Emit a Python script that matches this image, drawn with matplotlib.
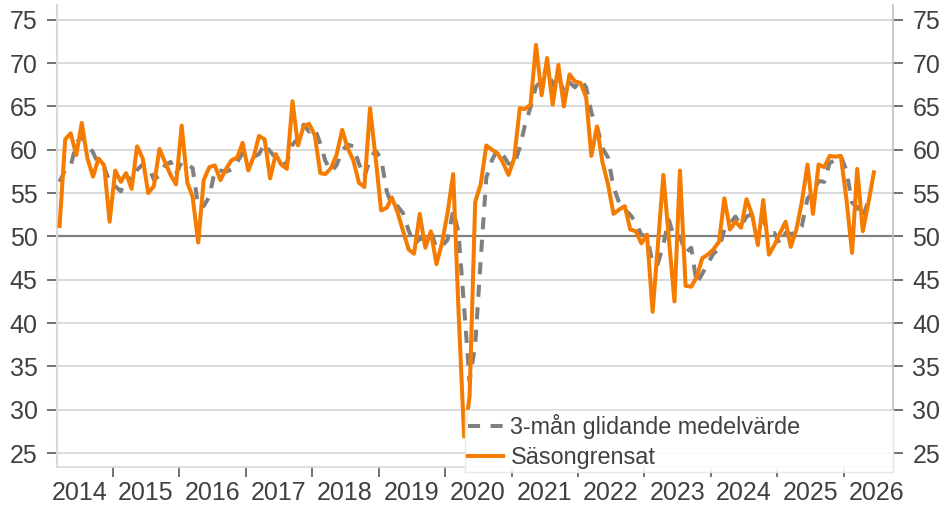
import matplotlib
matplotlib.use("Agg")
import matplotlib.pyplot as plt
import pandas as pd

plt.rcParams['font.family'] = ['Liberation Sans', 'DejaVu Sans']

# monthly data, first point March 2014
start_month = "2014-03-01"

sasongrensat = [
    51.2, 61.2, 61.9, 59.4, 63.1, 59.0, 56.9, 59.0, 58.2, 51.7,
    57.6, 56.3, 57.3, 55.5, 60.4, 59.0, 55.0, 55.8, 60.1, 58.6, 57.1, 56.0,
    62.8, 56.2, 54.6, 49.3, 56.5, 58.0, 58.2, 56.5, 57.8, 58.8, 59.1, 60.8,
    57.6, 59.3, 61.6, 61.2, 56.7, 59.5, 58.3, 57.8, 65.6, 60.5, 62.7, 63.0,
    61.7, 57.3, 57.2, 57.9, 59.4, 62.3, 60.2, 58.8, 56.2, 55.7, 64.8, 59.2,
    53.0, 53.3, 54.5, 52.8, 50.7, 48.5, 48.0, 52.6, 48.7, 50.6, 46.8, 49.2,
    52.7, 57.2, 41.6, 26.9, 31.5, 54.0, 56.0, 60.5, 60.0, 59.6, 58.5, 57.1,
    59.0, 64.8, 64.7, 65.2, 72.1, 66.3, 70.6, 65.2, 69.8, 65.0, 68.7, 67.9,
    67.7, 66.0, 59.3, 62.7, 58.6, 56.0, 52.6, 53.1, 53.5, 50.8, 50.6, 49.2,
    50.2, 41.3, 48.8, 57.1, 49.8, 42.5, 57.6, 44.3, 44.2, 45.3, 47.5, 47.9,
    48.5, 49.4, 54.4, 50.8, 51.7, 51.0, 54.3, 52.5, 49.0, 54.2, 47.9, 49.0,
    50.4, 51.7, 48.8, 50.8, 54.0, 58.3, 52.6, 58.3, 58.0, 59.3, 59.2, 59.3,
    54.3, 48.1, 57.8, 50.6, 53.8, 57.4,
]

glidande_medel = [
    56.3, 57.7, 58.1, 60.8, 61.5, 60.5, 59.7, 58.3, 58.0, 56.3,
    55.8, 55.2, 57.1, 56.4, 57.7, 58.3, 58.1, 56.6, 57.0, 58.2, 58.6, 57.2,
    58.6, 58.3, 57.9, 53.4, 53.5, 54.6, 57.6, 57.6, 57.5, 57.7, 58.6, 59.6,
    59.2, 59.2, 59.5, 60.7, 59.8, 59.1, 58.2, 58.5, 60.6, 61.3, 62.9, 62.1,
    62.5, 60.7, 58.7, 57.5, 58.2, 59.9, 60.6, 60.4, 58.4, 56.9, 58.9, 59.9,
    59.0, 55.2, 53.6, 53.5, 52.7, 50.7, 49.1, 49.7, 49.8, 50.6, 48.7, 48.9,
    49.6, 53.0, 50.5, 41.9, 33.3, 37.5, 47.2, 56.8, 58.8, 60.0, 59.4, 58.4,
    58.2, 60.3, 62.8, 64.9, 67.3, 67.9, 69.7, 67.4, 68.5, 66.7, 67.8, 67.2,
    68.1, 67.2, 64.3, 62.7, 60.2, 59.1, 55.7, 53.9, 53.1, 52.5, 51.6, 50.2,
    50.0, 46.9, 46.8, 49.1, 51.9, 49.8, 50.0, 48.1, 48.7, 44.6, 45.7, 46.9,
    48.0, 48.6, 50.8, 51.5, 52.3, 51.2, 52.3, 52.6, 51.9, 51.9, 50.4, 50.4,
    49.1, 50.4, 50.3, 50.4, 51.2, 54.4, 55.0, 56.4, 56.3, 58.5, 58.8, 59.3,
    57.6, 53.9, 53.4, 52.2, 54.1, 53.9,
]

years = list(range(2014, 2027))
y_ticks = list(range(25, 80, 5))

orange = "#F57C00"
grey_dash = "#808080"
text_col = "#404040"

dates = pd.date_range(start_month, periods=len(sasongrensat), freq="MS") + pd.Timedelta(days=14)

fig = plt.figure(figsize=(9.44, 5.07), dpi=100)
ax = fig.add_axes([0.0604, 0.079, 0.8856, 0.911])

# grid lines
for v in y_ticks:
    if v == 50:
        ax.axhline(v, color="#808080", lw=1.6, zorder=1)
    else:
        ax.axhline(v, color="#d0d0d0", lw=1.1, zorder=1)

ax.plot(dates, glidande_medel, color=grey_dash, lw=2.9, ls=(0, (3, 2.6)),
        label="3-mån glidande medelvärde", zorder=2)
ax.plot(dates, sasongrensat, color=orange, lw=2.9,
        label="Säsongrensat", zorder=3)

ax.set_xlim(pd.Timestamp("2014-03-01"), pd.Timestamp("2026-09-28"))
ax.set_ylim(23.4, 76.7)

# year boundaries as ticks, labels in the middle of each year
ax.set_xticks([pd.Timestamp(f"{y}-01-01") for y in years[1:]])
ax.set_xticklabels([])
ax.set_xticks([pd.Timestamp(f"{y}-07-01") for y in years], minor=True)
ax.set_xticklabels([str(y) for y in years], minor=True)
ax.tick_params(axis="x", which="major", length=7, width=1.2, color="#595959")
ax.tick_params(axis="x", which="minor", length=0, pad=10, labelsize=18, labelcolor=text_col)

ax.set_yticks(y_ticks)
ax.tick_params(axis="y", which="both", left=True, right=True, labelleft=True, labelright=True,
               length=7, width=1.2, color="#595959", pad=7, labelsize=18, labelcolor=text_col)

ax.spines["top"].set_visible(False)
ax.spines["left"].set_color("#d9d9d9")
ax.spines["left"].set_linewidth(1.5)
ax.spines["right"].set_color("#bfbfbf")
ax.spines["right"].set_linewidth(1.2)
ax.spines["bottom"].set_color("#d9d9d9")
ax.spines["bottom"].set_linewidth(1.2)

leg = ax.legend(loc="lower left", bbox_to_anchor=(0.488, -0.012, 0.512, 0.15), mode="expand",
                fontsize=16.8, frameon=True, fancybox=False, handlelength=1.5,
                handletextpad=0.3, labelspacing=0.3, borderpad=0.15, borderaxespad=0)
leg.get_frame().set_edgecolor("#e6e6e6")
leg.get_frame().set_facecolor("white")
leg.get_frame().set_alpha(0.9)
for t in leg.get_texts():
    t.set_color(text_col)

fig.savefig("out.png", dpi=100)
